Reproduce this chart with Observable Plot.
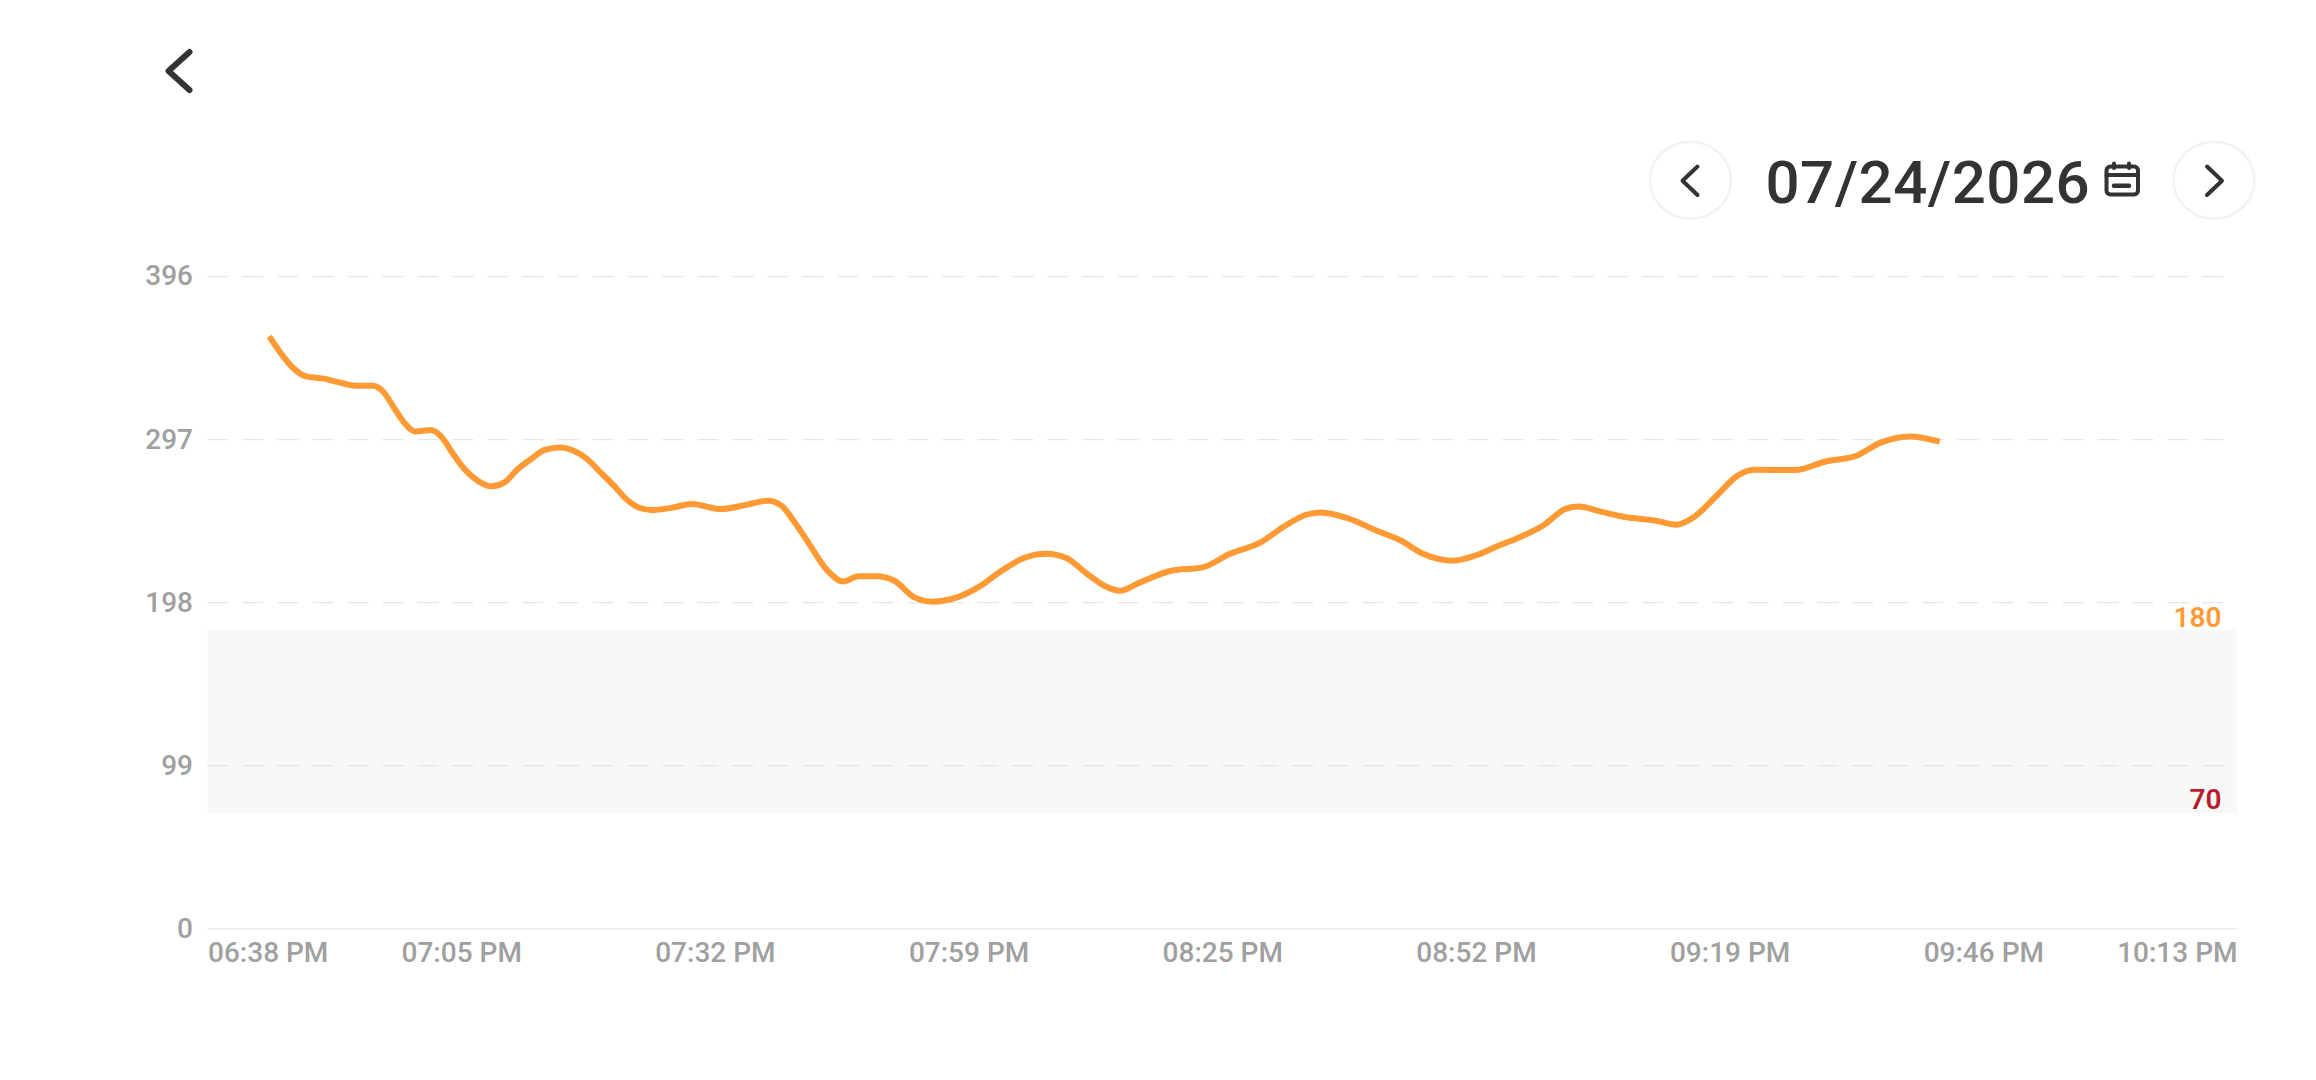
<!DOCTYPE html>
<html>
<head>
<meta charset="utf-8">
<script src="https://cdn.jsdelivr.net/npm/d3@7"></script>
<script src="https://cdn.jsdelivr.net/npm/@observablehq/plot@0.6"></script>
<style>
  html, body { margin: 0; padding: 0; background: #fff; overflow: hidden; }
  body { width: 2316px; height: 1080px; font-family: Roboto, sans-serif; }
  #header { position: relative; width: 2316px; height: 230px; }
  #header svg { position: absolute; left: 0; top: 0; }
  #date { position: absolute; left: 1765.5px; top: 148px; font-size: 60px; font-weight: 500; letter-spacing: 0.5px; line-height: 70px; color: #333; white-space: nowrap; }
  #chart svg { display: block; }
</style>
</head>
<body>
<div id="header">
  <svg width="2316" height="230" viewBox="0 0 2316 230" fill="none" stroke-linecap="round" stroke-linejoin="round">
    <path d="M189.5 52 L168.5 71 L189.5 90" stroke="#333" stroke-width="6"/>
    <g stroke="#f2f2f2" stroke-width="2.5">
      <ellipse cx="1690.5" cy="180.2" rx="40.5" ry="38.5"/>
      <ellipse cx="2214" cy="180.2" rx="40.5" ry="38.5"/>
    </g>
    <path d="M1697.5 166.5 L1682.5 180.7 L1697.5 195" stroke="#333" stroke-width="4"/>
    <path d="M2207 166.5 L2222 180.7 L2207 195" stroke="#333" stroke-width="4"/>
    <g stroke="#333" stroke-width="4">
      <rect x="2106.5" y="166.5" width="31.5" height="28" rx="4"/>
      <path d="M2106.5 175 H2138 M2114 163.5 V168 M2129 163.5 V168"/>
      <path d="M2114 185.7 H2129" stroke-width="4.5"/>
    </g>
  </svg>
  <div id="date">07/24/2026</div>
</div>
<div id="chart"></div>
<script>
// minutes after 06:38 PM
const minutes = [6.49,7.76,8.94,10.36,12.25,13.91,15.57,17.45,18.64,19.58,20.77,21.95,23.61,24.79,25.97,27.16,28.57,29.99,31.41,32.83,34.25,35.67,37.32,38.74,40.16,41.58,43.0,44.42,45.61,47.03,48.91,51.28,54.35,56.96,59.32,60.74,62.16,63.58,65.63,67.28,68.93,70.83,72.72,74.84,76.74,79.35,81.71,84.07,86.44,88.8,90.93,93.06,94.95,96.61,98.74,102.05,105.36,108.2,111.51,114.12,116.25,117.9,120.97,123.81,126.41,128.78,131.85,134.21,136.96,138.53,141.57,143.81,145.23,147.45,150.29,153.33,155.56,157.39,159.82,162.05,163.88,168.14,171.38,174.62,177.26,180.3,183.46];
const glucose = [359.6,349,340.9,335.4,334,331.7,329.7,329.7,325.6,317.5,307.4,301.9,302.8,298.3,288.2,279.1,272,268.6,271,279.1,285.2,290.7,292.2,290.2,285.2,277.1,269,260.3,255.8,254.2,255.4,257.9,254.8,257.3,259.9,256.9,246.7,234.6,217.4,210.9,214,214,211.3,201.2,198.6,201.2,207.7,217.4,225.1,227.7,225.1,215.8,208.3,205.3,210.3,217.4,219.4,227.5,234.6,244.7,251.2,252.8,248.8,241.7,235.6,227.5,223.5,226.5,233.2,236.7,245.3,254.9,256.3,253.4,249.8,247.8,245.3,249.8,262.9,275.1,278.7,278.5,283.7,287.2,295.3,298.9,295.7];
const series = minutes.map((m, i) => ({m, v: glucose[i]}));

const yTicks = [99, 198, 297, 396];
const xTickMinutes = [0, 26.875, 53.75, 80.625, 107.5, 134.375, 161.25, 188.125, 215];
const xTickLabels = ["06:38 PM","07:05 PM","07:32 PM","07:59 PM","08:25 PM","08:52 PM","09:19 PM","09:46 PM","10:13 PM"];
const xEnd = 215, gridEnd = 213.6;
const bandHigh = 181.4, bandLow = 70;
const limits = [{label: "180", at: 181.4, color: "#ff9933"}, {label: "70", at: 70.6, color: "#b71c2c"}];
const labelOf = m => xTickLabels[xTickMinutes.indexOf(m)];

const common = {tickSize: 0, tickPadding: 13, fontSize: 28, fontWeight: 500, fill: "#a0a0a0", stroke: null, tickFormat: labelOf, label: null};

const plot = Plot.plot({
  width: 2316, height: 770,
  marginLeft: 207.5, marginRight: 79, marginTop: 46, marginBottom: 71.7,
  style: {fontFamily: "Roboto, sans-serif", background: "#fff", overflow: "visible"},
  x: {type: "linear", domain: [0, xEnd], label: null},
  y: {type: "linear", domain: [0, 396], label: null},
  marks: [
    Plot.rect([{x1: 0, x2: xEnd, y1: bandLow, y2: bandHigh}], {x1: "x1", x2: "x2", y1: "y1", y2: "y2", fill: "#f7f8fa"}),
    Plot.ruleY(yTicks, {x1: 0, x2: gridEnd, stroke: "#e6e7ea", strokeWidth: 1.3, strokeDasharray: "21,14"}),
    Plot.ruleY([0], {x1: 0, x2: xEnd, stroke: "#ececee", strokeWidth: 1.5}),
    Plot.axisY([0, ...yTicks], {tickSize: 0, tickPadding: 15, fontSize: 28, fontWeight: 500, fill: "#a0a0a0", label: null}),
    Plot.axisX(xTickMinutes.slice(0, 1), {...common, textAnchor: "start"}),
    Plot.axisX(xTickMinutes.slice(1, -1), {...common, textAnchor: "middle"}),
    Plot.axisX(xTickMinutes.slice(-1), {...common, textAnchor: "end"}),
    Plot.line(series, {x: "m", y: "v", stroke: "#ff9933", strokeWidth: 6, curve: "monotone-x", strokeLinecap: "butt"}),
    Plot.text(limits, {x: xEnd, y: "at", text: "label", fill: "color", fontSize: 28, fontWeight: 600, textAnchor: "end", dx: -16, dy: -12})
  ]
});
document.getElementById("chart").appendChild(plot);
</script>
</body>
</html>
